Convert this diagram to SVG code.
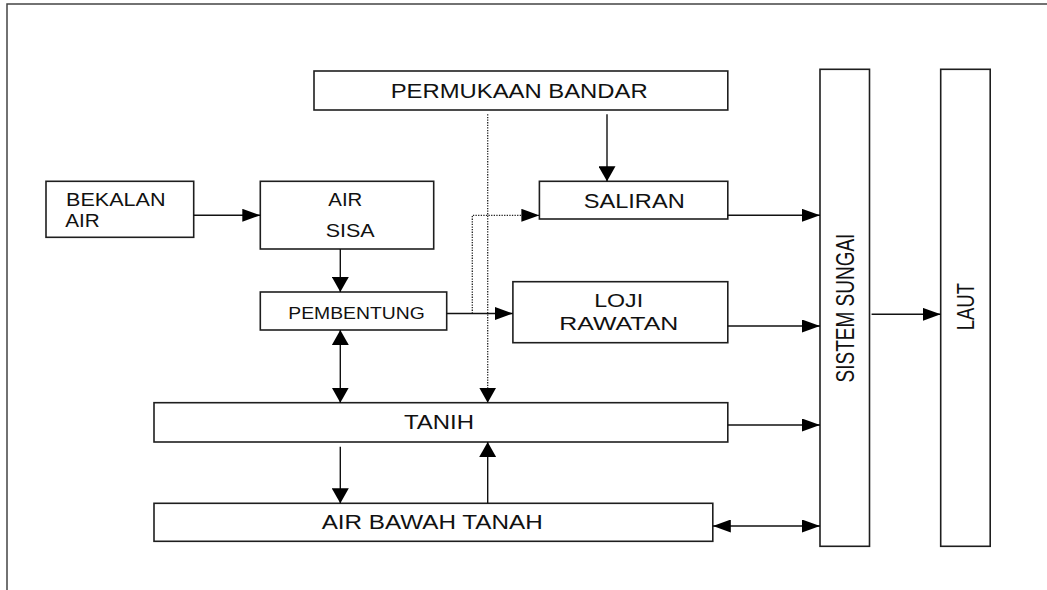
<svg xmlns="http://www.w3.org/2000/svg" width="1047" height="590" viewBox="0 0 1047 590">
<style>
.box{fill:#fff;stroke:#1e1e1e;stroke-width:1.6}
.t{font-family:"Liberation Sans",Arial,sans-serif;fill:#111}
.ln{fill:none;stroke:#111;stroke-width:1.4}
.dot{fill:none;stroke:#222;stroke-width:1.3;stroke-dasharray:1.3 1.3}
.frame{fill:none;stroke:#444;stroke-width:1.5}
</style>
<defs>
<marker id="ah" markerUnits="userSpaceOnUse" markerWidth="18" markerHeight="13" refX="18" refY="6.5" orient="auto-start-reverse" viewBox="0 0 18 13">
<path d="M0,0 L18,6.5 L0,13 z" fill="#000"/>
</marker>
<marker id="av" markerUnits="userSpaceOnUse" markerWidth="15" markerHeight="17" refX="15" refY="8.5" orient="auto-start-reverse" viewBox="0 0 15 17">
<path d="M0,0 L15,8.5 L0,17 z" fill="#000"/>
</marker>
</defs>
<rect width="1047" height="590" fill="#fff"/>
<path class="frame" d="M7,590 V4 H1047"/>

<g id="permukaan-bandar">
<rect class="box" x="314" y="71" width="413.8" height="39"/>
<text class="t" x="390.7" y="97.7" font-size="20" textLength="257" lengthAdjust="spacingAndGlyphs">PERMUKAAN BANDAR</text>
</g>
<g id="bekalan-air">
<rect class="box" x="46" y="181.3" width="147.7" height="56"/>
<text class="t" x="66" y="205.7" font-size="18" textLength="99.5" lengthAdjust="spacingAndGlyphs">BEKALAN</text>
<text class="t" x="65.3" y="226.7" font-size="18" textLength="34.5" lengthAdjust="spacingAndGlyphs">AIR</text>
</g>
<g id="air-sisa">
<rect class="box" x="260.3" y="181.3" width="173.4" height="67.7"/>
<text class="t" x="328.3" y="205.7" font-size="18" textLength="34" lengthAdjust="spacingAndGlyphs">AIR</text>
<text class="t" x="325.7" y="237.3" font-size="18" textLength="49" lengthAdjust="spacingAndGlyphs">SISA</text>
</g>
<g id="pembentung">
<rect class="box" x="260.3" y="292" width="186.4" height="38"/>
<text class="t" x="288.3" y="318.7" font-size="16.5" textLength="136.5" lengthAdjust="spacingAndGlyphs">PEMBENTUNG</text>
</g>
<g id="saliran">
<rect class="box" x="539.4" y="181.3" width="188.4" height="37.7"/>
<text class="t" x="583.7" y="208.3" font-size="19.5" textLength="101" lengthAdjust="spacingAndGlyphs">SALIRAN</text>
</g>
<g id="loji-rawatan">
<rect class="box" x="512.9" y="281.7" width="214.9" height="61"/>
<text class="t" x="594.2" y="306.7" font-size="18.6" textLength="49" lengthAdjust="spacingAndGlyphs">LOJI</text>
<text class="t" x="559.3" y="330" font-size="18.6" textLength="119" lengthAdjust="spacingAndGlyphs">RAWATAN</text>
</g>
<g id="tanih">
<rect class="box" x="154" y="402.7" width="573.8" height="39.3"/>
<text class="t" x="404" y="429.3" font-size="20" textLength="70" lengthAdjust="spacingAndGlyphs">TANIH</text>
</g>
<g id="air-bawah-tanah">
<rect class="box" x="154" y="503.3" width="558.8" height="38"/>
<text class="t" x="321.7" y="529" font-size="19.5" textLength="221" lengthAdjust="spacingAndGlyphs">AIR BAWAH TANAH</text>
</g>
<g id="sistem-sungai">
<rect class="box" x="820" y="69.3" width="49.5" height="477"/>
<text class="t" font-size="19" text-anchor="middle" transform="translate(854,308) scale(1.32,1) rotate(-90)">SISTEM SUNGAI</text>
</g>
<g id="laut">
<rect class="box" x="940.7" y="69.3" width="49.5" height="477"/>
<text class="t" font-size="18.5" text-anchor="middle" transform="translate(974,306.7) scale(1.28,1) rotate(-90)">LAUT</text>
</g>

<g id="connectors">
<path class="ln" d="M193.7,215.3 H260.3" marker-end="url(#ah)"/>
<path class="ln" d="M340.3,249 V292" marker-end="url(#av)"/>
<path class="ln" d="M607,114.3 V181.3" marker-end="url(#av)"/>
<path class="dot" d="M472.3,313.5 V215.3 H539.4" marker-end="url(#ah)"/>
<path class="dot" d="M487.7,114.3 V402.7" marker-end="url(#av)"/>
<path class="ln" d="M446.7,313.5 H512.9" marker-end="url(#ah)"/>
<path class="ln" d="M727.8,215.3 H820" marker-end="url(#ah)"/>
<path class="ln" d="M727.8,326 H820" marker-end="url(#ah)"/>
<path class="ln" d="M340.3,330 V402.7" marker-start="url(#av)" marker-end="url(#av)"/>
<path class="ln" d="M727.8,425 H820" marker-end="url(#ah)"/>
<path class="ln" d="M340.3,446.7 V503.3" marker-end="url(#av)"/>
<path class="ln" d="M487.7,503.3 V442" marker-end="url(#av)"/>
<path class="ln" d="M712.8,526 H820" marker-start="url(#ah)" marker-end="url(#ah)"/>
<path class="ln" d="M871.6,314.3 H940.7" marker-end="url(#ah)"/>
</g>
</svg>
